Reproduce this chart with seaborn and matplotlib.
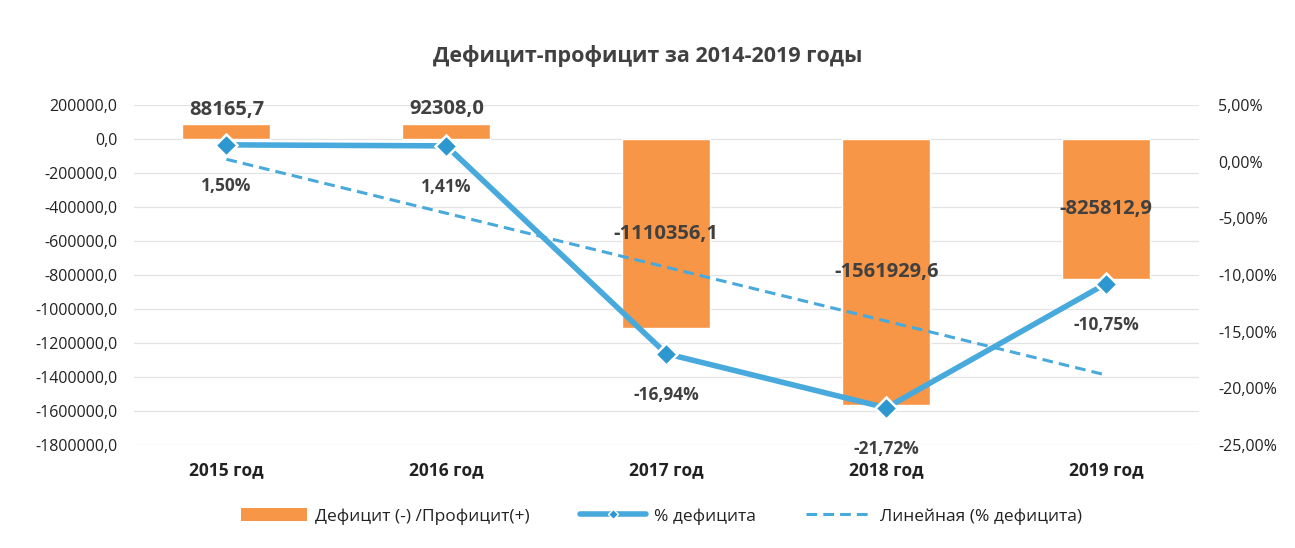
import numpy as np
import pandas as pd
import seaborn as sns
import matplotlib.pyplot as plt
from matplotlib.lines import Line2D
from matplotlib.patches import Patch

# chart data
years = ['2015 год', '2016 год', '2017 год', '2018 год', '2019 год']
balance = [88165.7, 92308.0, -1110356.1, -1561929.6, -825812.9]
deficit_pct = [1.50, 1.41, -16.94, -21.72, -10.75]

left_ticks = list(range(-1800000, 200001, 200000))
right_ticks = list(range(-25, 6, 5))

sns.set_theme(style='white')
plt.rcParams['font.family'] = ['Open Sans', 'DejaVu Sans']

BAR = '#F79646'
LINE = '#47A9DC'
MARK = '#2C98CF'
TXT = '#404040'

fig = plt.figure(figsize=(12.95, 5.48), dpi=100)
ax = fig.add_axes([0.1035, 0.188, 0.822, 0.62])

df = pd.DataFrame({'year': years, 'balance': balance})
sns.barplot(data=df, x='year', y='balance', color=BAR, width=0.4,
            saturation=1, ax=ax, zorder=2)
ax.set_ylim(-1800000, 200000)
ax.set_yticks(left_ticks)
ax.set_yticklabels([f'{v:.1f}'.replace('.', ',') for v in left_ticks],
                   fontsize=11.5, color='#222222')
ax.grid(axis='y', color='#e3e3e3', linewidth=0.9, zorder=0)
ax.set_xlabel('')
ax.set_ylabel('')
ax.tick_params(axis='x', labelsize=12.5, pad=12, length=0)
ax.tick_params(axis='y', length=0, pad=12)
for lbl in ax.get_xticklabels():
    lbl.set_fontweight('bold')
    lbl.set_color('#222222')
for s in ax.spines.values():
    s.set_visible(False)

for i, v in enumerate(balance):
    txt = f'{v:.1f}'.replace('.', ',')
    if v > 0:
        ax.annotate(txt, (i, v), xytext=(0, 3), textcoords='offset points',
                    ha='center', va='bottom', fontsize=14.5, fontweight='bold',
                    color=TXT, zorder=5)
    else:
        ax.text(i, v / 2, txt, ha='center', va='center', fontsize=14.5,
                fontweight='bold', color=TXT, zorder=5)

ax2 = ax.twinx()
pos = np.arange(len(years))
sns.lineplot(x=pos, y=deficit_pct, ax=ax2, color=LINE, linewidth=4,
             marker='D', markersize=11, markerfacecolor=MARK,
             markeredgecolor='white', markeredgewidth=1.8, zorder=4)
k, b = np.polyfit(pos, deficit_pct, 1)
trend = k * pos + b
ax2.plot(pos, trend, color=LINE, linewidth=2.2, linestyle=(0, (3.5, 2)), zorder=3)
ax2.set_ylim(-25, 5)
ax2.set_yticks(right_ticks)
ax2.set_yticklabels([f'{v:.2f}%'.replace('.', ',') for v in right_ticks],
                    fontsize=11.5, color='#222222')
ax2.tick_params(axis='y', length=0, pad=14)
ax2.grid(False)
for s in ax2.spines.values():
    s.set_visible(False)

for i, v in enumerate(deficit_pct):
    ax2.annotate(f'{v:.2f}%'.replace('.', ','), (i, v), xytext=(0, -23),
                 textcoords='offset points', ha='center', va='top',
                 fontsize=12.5, fontweight='bold', color=TXT)

fig.text(0.5, 0.898, 'Дефицит-профицит за 2014-2019 годы', ha='center',
         va='center', fontsize=15.5, fontweight='bold', color=TXT)

handles = [
    Patch(facecolor=BAR, edgecolor='none'),
    Line2D([], [], color=LINE, linewidth=4, marker='D', markersize=5,
           markerfacecolor=MARK, markeredgecolor='white'),
    Line2D([], [], color=LINE, linewidth=2.2, linestyle=(0, (3.5, 2))),
]
fig.legend(handles, ['Дефицит (-) /Профицит(+)', '% дефицита',
                     'Линейная (% дефицита)'],
           loc='center', bbox_to_anchor=(0.511, 0.058), ncol=3, frameon=False,
           fontsize=12.5, handlelength=3.8, handleheight=0.8, columnspacing=2.9,
           handletextpad=0.45, labelcolor='#222222')

fig.savefig('out.png', dpi=100, facecolor='white')
